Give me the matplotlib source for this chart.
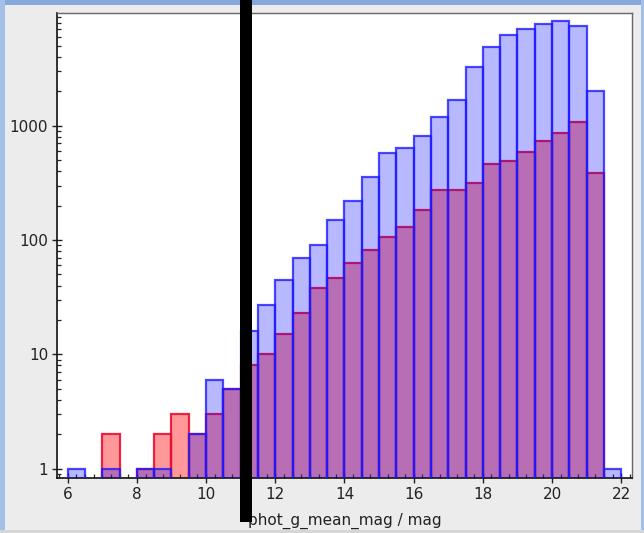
import numpy as np
import matplotlib
matplotlib.use("Agg")
import matplotlib.pyplot as plt
from matplotlib.patches import Rectangle
from matplotlib.ticker import LogLocator, FixedLocator, MultipleLocator, NullFormatter

# Histogram of G magnitudes, 0.5 mag bins from 6 to 22
bin_edges = np.arange(6.0, 22.01, 0.5)

# counts per bin, all sources (blue)
counts_all = [1, 0, 1, 0, 1, 1, 0, 2, 6, 5,
              16, 27, 45, 70, 90, 149, 221, 359, 575, 643,
              819, 1187, 1681, 3250, 4863, 6190, 7030, 7824, 8258, 7465,
              2028, 1]
# counts per bin, selected subset (red)
counts_sel = [0, 0, 2, 0, 1, 2, 3, 2, 3, 5,
              8, 10, 15, 23, 38, 47, 63, 82, 107, 129,
              183, 273, 273, 314, 466, 492, 590, 736, 865, 1073,
              386, 0]

x_label = "phot_g_mean_mag / mag"
x_ticks = [6, 8, 10, 12, 14, 16, 18, 20, 22]
y_ticks = [1, 10, 100, 1000]

W, H = 644, 533
fig = plt.figure(figsize=(W / 100, H / 100), dpi=100)
fig.patch.set_facecolor("#ececec")

# window frame around the plot panel
frame = "#86a9db"
fig.patches.append(Rectangle((0, 1 - 5 / H), 1, 5 / H, transform=fig.transFigure,
                             facecolor=frame, edgecolor="none", zorder=0))
fig.patches.append(Rectangle((0, 0), 4.5 / W, 1, transform=fig.transFigure,
                             facecolor="#a4bfe8", edgecolor="none", zorder=0))
fig.patches.append(Rectangle((1 - 3.5 / W, 0), 3.5 / W, 1, transform=fig.transFigure,
                             facecolor="#a4bfe8", edgecolor="none", zorder=0))
fig.patches.append(Rectangle((0, 0), 1, 3 / H, transform=fig.transFigure,
                             facecolor="#d6d6d6", edgecolor="none", zorder=0))

ax_l, ax_r, ax_t, ax_b = 57.3, 632.3, 13.3, 477.7
ax = fig.add_axes([ax_l / W, (H - ax_b) / H, (ax_r - ax_l) / W, (ax_b - ax_t) / H])
ax.set_facecolor("white")

left = bin_edges[:-1]
width = 0.5

sel = np.array(counts_sel, dtype=float)
allc = np.array(counts_all, dtype=float)
m_sel = sel > 0
m_all = allc > 0

ax.bar(left[m_sel], sel[m_sel], width=width, align="edge",
       facecolor=(1, 0, 0, 0.40), edgecolor=(0.92, 0.05, 0.2, 0.9),
       linewidth=1.6, zorder=2)
ax.bar(left[m_all], allc[m_all], width=width, align="edge",
       facecolor=(0, 0, 1, 0.28), edgecolor=(0.12, 0.1, 1.0, 0.8),
       linewidth=1.6, zorder=3)

ax.set_yscale("log")
ax.set_xlim(5.70, 22.32)
ax.set_ylim(0.834, 9640)

ax.xaxis.set_major_locator(FixedLocator(x_ticks))
ax.xaxis.set_minor_locator(MultipleLocator(0.25))
ax.set_xticklabels([str(t) for t in x_ticks])
ax.yaxis.set_major_locator(FixedLocator(y_ticks))
ax.yaxis.set_minor_locator(LogLocator(base=10, subs=np.arange(2, 10)))
ax.yaxis.set_minor_formatter(NullFormatter())
ax.set_yticklabels([str(t) for t in y_ticks])

ax.tick_params(which="major", direction="inout", length=7, width=1.0,
               labelsize=11, color="#222222", labelcolor="#222222")
ax.tick_params(which="minor", direction="in", length=3, width=0.9, color="#222222")
ax.tick_params(axis="x", which="major", pad=3)
ax.tick_params(axis="y", which="major", pad=3)

for side in ("left", "bottom"):
    ax.spines[side].set_color("#111111")
    ax.spines[side].set_linewidth(1.2)
for side in ("top", "right"):
    ax.spines[side].set_color("#666666")
    ax.spines[side].set_linewidth(1.0)

ax.set_xlabel(x_label, fontsize=11, color="#222222")
ax.xaxis.label.set_va("baseline")
ax.xaxis.set_label_coords(0.5, (ax_b - 525) / (ax_b - ax_t))

# black vertical bar laid over the panel
fig.patches.append(Rectangle((240 / W, (H - 521.7) / H), 11.5 / W, 521.7 / H,
                             transform=fig.transFigure, facecolor="black",
                             edgecolor="none", zorder=10))

fig.savefig("out.png", dpi=100, facecolor=fig.get_facecolor())
